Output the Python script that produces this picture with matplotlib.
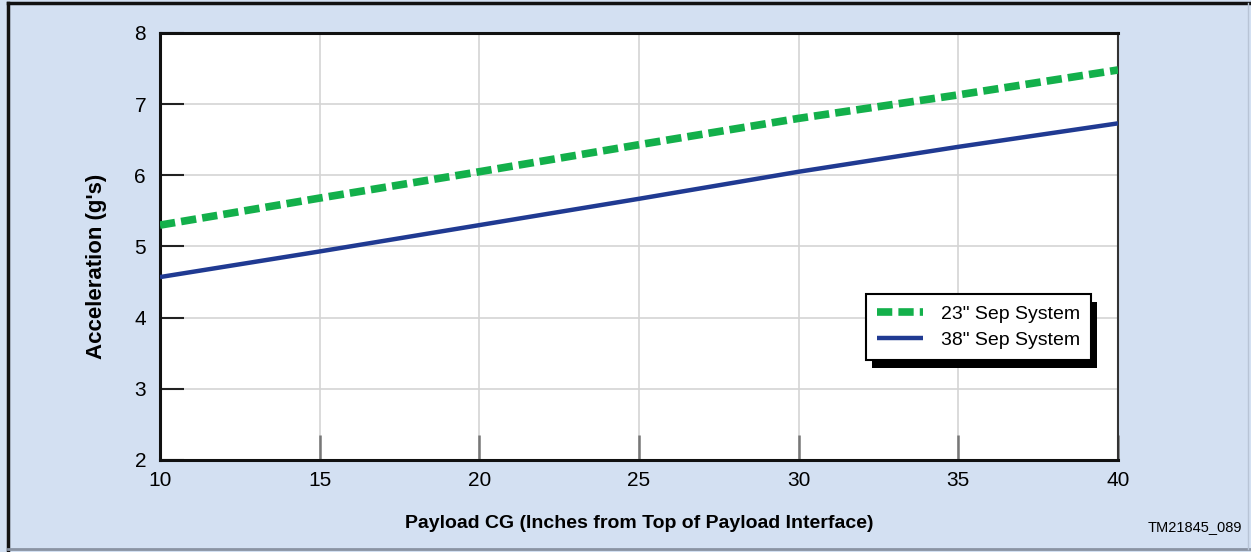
import matplotlib.pyplot as plt
from matplotlib.lines import Line2D
from matplotlib.patches import Rectangle
from matplotlib.transforms import IdentityTransform

plt.rcParams['font.family'] = ['Liberation Sans', 'DejaVu Sans']

# payload CG (inches) and acceleration (g's)
cg = [10, 15, 20, 25, 30, 35, 40]
accel_23 = [5.30, 5.68, 6.05, 6.43, 6.80, 7.13, 7.48]
accel_38 = [4.57, 4.93, 5.30, 5.67, 6.05, 6.40, 6.73]
x_ticks = [10, 15, 20, 25, 30, 35, 40]
y_ticks = [2, 3, 4, 5, 6, 7, 8]

bg = '#d3e0f2'
green = '#13b04b'
blue = '#203a92'

fig = plt.figure(figsize=(12.51, 5.52), dpi=100, facecolor=bg)
ax = fig.add_axes([0.1279, 0.1667, 0.7658, 0.7736])
ax.set_facecolor('white')

ax.plot(cg, accel_23, color=green, lw=5.5, dashes=(2.0, 0.8),
        dash_capstyle='butt', label='23" Sep System', zorder=3)
ax.plot(cg, accel_38, color=blue, lw=3.2, solid_capstyle='butt',
        label='38" Sep System', zorder=3)

ax.set_xlim(10, 40)
ax.set_ylim(2, 8)
ax.set_xticks(x_ticks)
ax.set_yticks(y_ticks)
ax.grid(True, color='#d4d4d4', lw=1.2, zorder=0)
ax.tick_params(axis='y', direction='in', length=17, width=1.5, color='#222222',
               labelsize=15, pad=10)
ax.tick_params(axis='x', direction='in', length=18, width=1.8, color='#777777',
               labelsize=15, pad=8)
for s in ['left', 'bottom', 'top']:
    ax.spines[s].set_linewidth(2.2)
    ax.spines[s].set_color('#111111')
ax.spines['right'].set_linewidth(1.5)
ax.spines['right'].set_color('#333333')

ax.set_xlabel('Payload CG (Inches from Top of Payload Interface)',
              fontsize=14, fontweight='bold')
ax.xaxis.set_label_coords(0.5, -0.13)
ax.set_ylabel("Acceleration (g's)", fontsize=16, fontweight='bold')
ax.yaxis.set_label_coords(-0.0553, 0.454)

leg = ax.legend(loc='upper left', bbox_to_anchor=(0.737, 0.388), fontsize=14,
                frameon=True, fancybox=False, framealpha=1,
                edgecolor='black', handlelength=2.4, borderpad=0.55,
                labelspacing=0.45, handletextpad=0.9, borderaxespad=0)
leg.get_frame().set_linewidth(1.5)
leg.set_zorder(6)

fig.text(0.955, 0.045, 'TM21845_089', fontsize=10.5, ha='center', va='center')

# drop shadow under the legend, offset in pixels
fig.canvas.draw()
bb = leg.get_window_extent()
ax.add_patch(Rectangle((bb.x0 + 6, bb.y0 - 8), bb.width, bb.height,
                       transform=IdentityTransform(), facecolor='black',
                       edgecolor='none', clip_on=False, zorder=5))

# outer frame: dark top/left, grey bottom/right
fig.add_artist(Line2D([0.006, 0.006], [0.003, 0.994], transform=fig.transFigure,
                      color='#111111', lw=2.5))
fig.add_artist(Line2D([0.006, 1.0], [0.994, 0.994], transform=fig.transFigure,
                      color='#111111', lw=2.5))
fig.add_artist(Line2D([0.006, 1.0], [0.005, 0.005], transform=fig.transFigure,
                      color='#8a93a3', lw=2))
fig.add_artist(Line2D([0.998, 0.998], [0.005, 0.994], transform=fig.transFigure,
                      color='#b8c4d6', lw=1))

fig.savefig('out.png', dpi=100, facecolor=bg)
